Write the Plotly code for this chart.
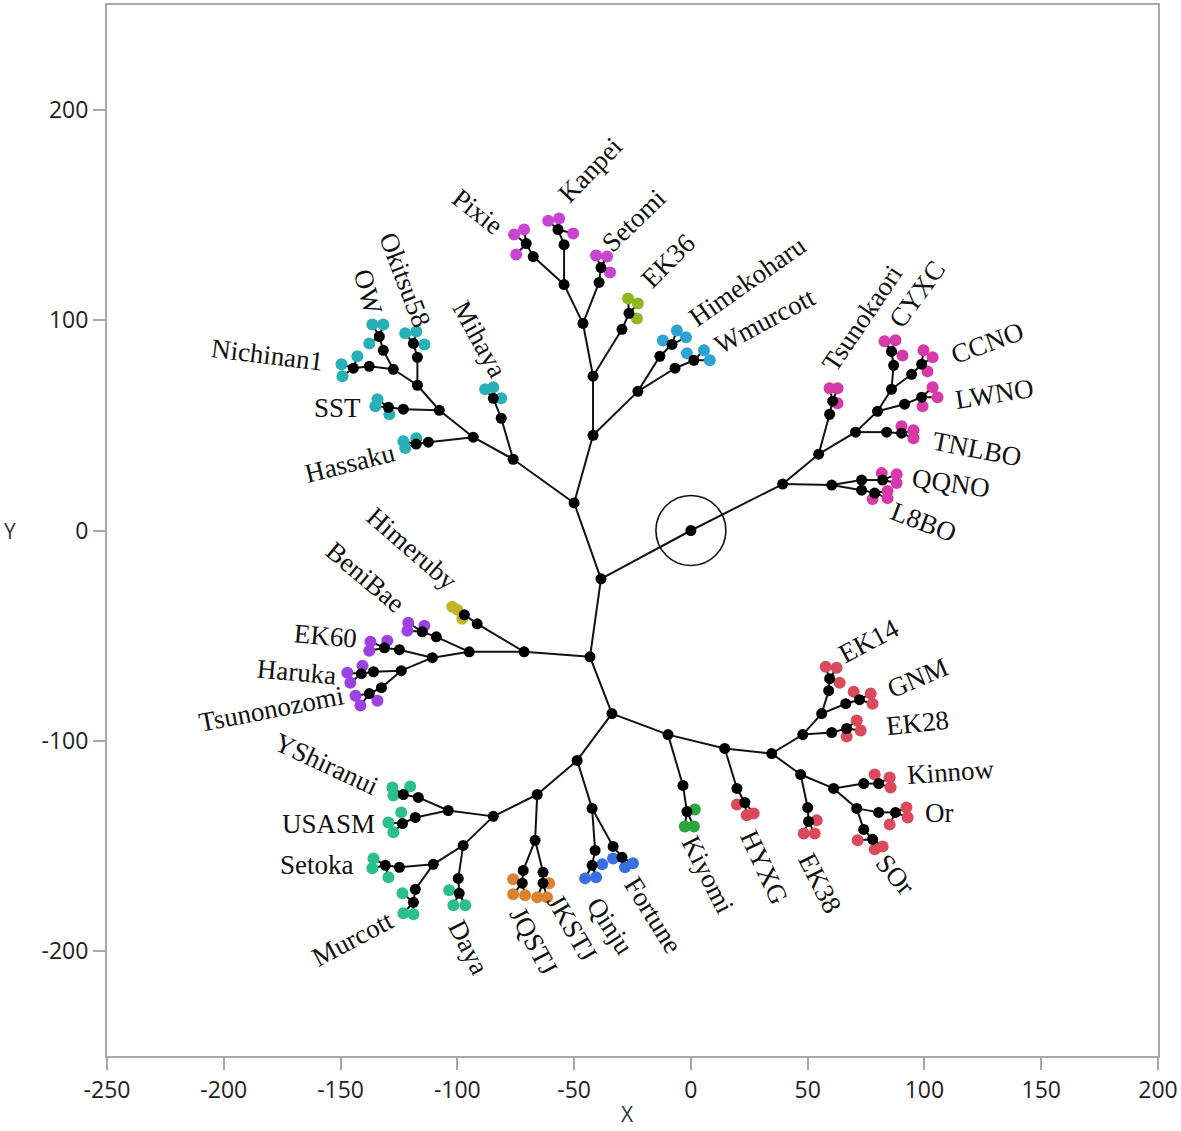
import plotly.graph_objects as go

# ---------------- data: tree nodes (id, parent, x, y) ----------------
node_id = ["root", "A", "R", "R1", "Tsu1", "Tsu2", "R2", "TN1", "TN2", "R3", "LW1", "LW2",
           "R4", "CY1", "CY2", "CC1", "CC2", "Q0", "QQ1", "QQ2", "L81", "L82",
           "B", "C1", "C2", "EK1", "EK2", "C3", "SE1", "SE2", "C4", "PX1", "PX2", "KP1", "KP2",
           "HW", "HK1", "HK2", "WM1", "WM2",
           "L0", "MH1", "MH2", "L1", "HS1", "HS2", "L2", "SS1", "SS2", "L3", "OK1", "OK2",
           "L4", "OW1", "OW2", "NI1", "NI2",
           "D", "D1", "HR1", "HR2", "D2", "BB1", "BB2", "D3", "E61", "E62", "D4", "HA1", "HA2",
           "TZ1", "TZ2",
           "E", "F", "G", "QJ1", "QJ2", "FT1", "FT2", "H", "J0", "JQ1", "JQ2", "JK1", "JK2",
           "I", "I1", "YS1", "YS2", "US1", "US2", "I2", "DY1", "DY2", "I3", "ST1", "ST2", "MC1", "MC2",
           "K", "KY1", "KY2", "L", "HY1", "HY2", "M", "M1", "E281", "E282", "M2", "E141", "E142",
           "GN1", "GN2", "M3", "E381", "E382", "M4", "KN1", "KN2", "M5", "OR1", "OR2", "SO1", "SO2"]
node_parent = [None, "root", "root", "R", "R1", "Tsu1", "R1", "R2", "TN1", "R2", "R3", "LW1",
               "R3", "R4", "CY1", "R4", "CC1", "R", "Q0", "QQ1", "Q0", "L81",
               "A", "B", "C1", "C2", "EK1", "C2", "C3", "SE1", "C3", "C4", "PX1", "C4", "KP1",
               "C1", "HW", "HK1", "HW", "WM1",
               "B", "L0", "MH1", "L0", "L1", "HS1", "L1", "L2", "SS1", "L2", "L3", "OK1",
               "L3", "L4", "OW1", "L4", "NI1",
               "A", "D", "D1", "HR1", "D1", "D2", "BB1", "D2", "D3", "E61", "D3", "D4", "HA1",
               "D4", "TZ1",
               "D", "E", "F", "G", "QJ1", "G", "FT1", "F", "H", "J0", "JQ1", "J0", "JK1",
               "H", "I", "I1", "YS1", "I1", "US1", "I", "I2", "DY1", "I2", "I3", "ST1", "I3", "MC1",
               "E", "K", "KY1", "K", "L", "HY1", "L", "M", "M1", "E281", "M1", "M2", "E141",
               "M2", "GN1", "M", "M3", "E381", "M3", "M4", "KN1", "M4", "M5", "OR1", "M5", "SO1"]
node_x = [0, -38.5, 39.3, 54.7, 59.4, 60.7, 70.5, 83.8, 90.2, 79.9, 91.5, 98.8,
          85.9, 86.8, 85.9, 94.5, 98.8, 60.3, 73.1, 82.1, 73.1, 78.7,
          -50.0, -41.9, -41.9, -29.5, -26.5, -46.2, -39.3, -38.5, -54.3, -67.5, -70.5, -54.3, -56.9,
          -22.7, -13.3, -8.1, -6.8, 1.3,
          -76.1, -81.2, -84.6, -93.2, -112.4, -117.6, -107.7, -123.1, -129.5, -117.1, -117.1, -118.8,
          -127.4, -131.7, -133.4, -137.7, -144.5,
          -43.2, -71.4, -91.5, -97.0, -94.9, -109.0, -115.0, -110.7, -124.8, -131.2, -124.0, -135.9, -141.1,
          -132.5, -137.7,
          -33.8, -48.7, -42.3, -41.0, -42.3, -33.3, -29.5, -65.8, -66.7, -71.8, -72.2, -63.3, -63.3,
          -84.6, -103.9, -116.7, -123.1, -118.0, -123.5, -97.5, -99.6, -99.2, -110.3, -124.8, -130.8, -118.0, -118.8,
          -9.8, -3.4, -1.7, 14.5, 19.7, 23.1, 34.6, 47.9, 60.3, 66.7, 56.0, 59.0, 59.4,
          66.3, 72.2, 47.0, 50.0, 50.4, 61.1, 74.0, 80.4, 71.0, 80.4, 87.6, 74.0, 77.8]
node_y = [0, -23.0, 22.1, 36.3, 55.3, 61.5, 46.8, 46.8, 46.3, 56.7, 60.1, 63.4,
          67.2, 78.6, 85.2, 74.3, 79.1, 21.6, 24.0, 24.0, 19.2, 17.8,
          13.1, 45.3, 73.4, 95.7, 103.3, 98.5, 118.0, 125.1, 117.0, 130.3, 136.5, 136.0, 143.2,
          66.2, 82.9, 88.5, 77.2, 81.0,
          33.9, 53.4, 62.9, 44.4, 42.0, 41.1, 57.2, 57.7, 58.6, 69.1, 82.4, 89.0,
          76.7, 85.7, 92.3, 78.1, 77.2,
          -60.1, -57.7, -44.4, -40.1, -57.7, -50.6, -48.2, -60.5, -56.7, -55.8, -66.7, -67.2, -68.1,
          -74.8, -77.6,
          -87.1, -109.4, -132.2, -152.2, -159.3, -150.3, -155.5, -125.6, -147.4, -161.7, -167.8, -162.6, -167.8,
          -136.0, -133.2, -127.0, -125.6, -136.5, -139.4, -149.8, -165.5, -172.6, -158.8, -160.2, -159.3, -170.7, -176.9,
          -97.1, -121.3, -133.7, -103.7, -122.7, -129.4, -106.1, -97.1, -96.1, -94.2, -87.1, -76.2, -70.5,
          -82.4, -80.5, -116.1, -131.8, -138.4, -122.7, -120.4, -120.4, -132.2, -134.1, -134.1, -142.2, -146.9]

# ---------------- data: leaf groups (cultivar samples) ----------------
leaf_label = ["Tsunokaori", "TNLBO", "LWNO", "CYXC", "CCNO", "QQNO", "L8BO",
              "EK36", "Setomi", "Pixie", "Kanpei", "Himekoharu", "Wmurcott",
              "Mihaya", "Hassaku", "SST", "Okitsu58", "OW", "Nichinan1",
              "Himeruby", "BeniBae", "EK60", "Haruka", "Tsunonozomi",
              "Qinju", "Fortune", "JQSTJ", "JKSTJ",
              "YShiranui", "USASM", "Daya", "Setoka", "Murcott",
              "Kiyomi", "HYXG", "EK28", "EK14", "GNM", "EK38", "Kinnow", "Or", "SOr"]
leaf_attach = ["Tsu2", "TN2", "LW2", "CY2", "CC2", "QQ2", "L82",
               "EK2", "SE2", "PX2", "KP2", "HK2", "WM2",
               "MH2", "HS2", "SS2", "OK2", "OW2", "NI2",
               "HR2", "BB2", "E62", "HA2", "TZ2",
               "QJ2", "FT2", "JQ2", "JK2",
               "YS2", "US2", "DY2", "ST2", "MC2",
               "KY2", "HY2", "E282", "E142", "GN2", "E382", "KN2", "OR2", "SO2"]
leaf_group = ["g1", "g1", "g1", "g1", "g1", "g1", "g1",
              "g2", "g3", "g3", "g3", "g4", "g4",
              "g5", "g5", "g5", "g5", "g5", "g5",
              "g6", "g7", "g7", "g7", "g7",
              "g8", "g8", "g9", "g9",
              "g10", "g10", "g10", "g10", "g10",
              "g11", "g12", "g12", "g12", "g12", "g12", "g12", "g12", "g12"]
leaf_x = [[59.4, 62.8, 62.8], [90.2, 95.3, 95.3], [103.5, 105.6, 99.2], [82.9, 87.6, 90.6],
          [99.6, 103.5, 101.3], [81.7, 88.1, 88.1], [77.8, 84.2, 84.2],
          [-26.9, -22.7, -23.1], [-40.6, -35.9, -34.6], [-75.7, -71.4, -74.8], [-61.1, -56.4, -50.4],
          [-12.0, -6.0, -2.1], [-1.7, 5.6, 8.1],
          [-88.1, -84.6, -81.2], [-123.1, -122.3, -117.6], [-134.2, -135.1, -129.1],
          [-122.3, -117.6, -114.1], [-136.4, -131.7, -137.7], [-149.6, -149.2, -142.8],
          [-102.2, -100.0, -97.9], [-121.0, -121.4, -114.1], [-137.2, -137.7, -130.0],
          [-147.1, -145.8, -140.6], [-143.6, -141.5, -134.2],
          [-45.3, -40.6, -38.0], [-33.3, -28.2, -24.8], [-76.1, -76.1, -71.0], [-65.8, -61.6, -60.7],
          [-127.8, -127.4, -120.2], [-129.5, -127.4, -124.0], [-103.5, -101.7, -96.6],
          [-135.9, -136.4, -129.5], [-123.5, -123.1, -118.8],
          [1.7, -2.6, 1.3], [19.7, 23.9, 26.9], [71.0, 72.7, 66.7], [57.7, 62.4, 63.7],
          [69.7, 77.0, 77.8], [53.9, 48.3, 53.0], [78.7, 85.1, 85.5], [92.3, 92.8, 85.1],
          [71.4, 78.7, 82.1]]
leaf_y = [[67.7, 67.7, 60.5], [49.6, 47.7, 43.9], [68.1, 63.4, 59.1], [90.0, 90.5, 83.3],
          [85.7, 82.4, 75.7], [27.3, 26.8, 22.6], [15.0, 18.8, 15.4],
          [110.4, 108.0, 100.9], [130.8, 130.3, 122.7], [140.8, 143.2, 131.3], [147.4, 148.4, 141.3],
          [90.4, 95.2, 91.9], [84.3, 85.7, 81.0],
          [67.2, 68.1, 62.9], [42.5, 39.2, 43.9], [62.4, 59.1, 55.3],
          [93.8, 94.7, 88.5], [98.0, 98.0, 89.0], [79.1, 73.4, 82.9],
          [-36.3, -37.7, -42.0], [-43.9, -47.7, -45.3], [-52.9, -57.2, -52.5],
          [-67.7, -72.4, -64.3], [-78.6, -83.3, -81.0],
          [-165.5, -165.0, -158.8], [-156.0, -160.2, -158.3], [-165.9, -173.0, -173.5], [-174.5, -174.5, -167.8],
          [-122.3, -126.1, -121.8], [-138.9, -143.6, -134.1], [-171.2, -178.3, -178.3],
          [-156.0, -160.7, -165.0], [-172.6, -182.1, -182.6],
          [-132.7, -140.8, -140.8], [-130.3, -135.5, -134.6], [-90.4, -95.2, -98.0], [-64.8, -65.3, -72.4],
          [-76.7, -77.6, -82.4], [-137.9, -144.1, -144.1], [-116.1, -117.5, -122.3], [-131.8, -136.5, -139.9],
          [-147.4, -151.7, -150.3]]

x_ticks = [-250, -200, -150, -100, -50, 0, 50, 100, 150, 200]
x_tick_text = ["-250", "-200", "-150", "-100", "-50", "0", "50", "100", "150", "200"]
y_ticks = [-200, -100, 0, 100, 200]
y_tick_text = ["-200", "-100", "0", "100", "200"]

# ---------------- styles / label placement ----------------
group_color = {"g1": "#d53aa8", "g2": "#8db822", "g3": "#c845d2", "g4": "#2ea3d2",
               "g5": "#27b1b6", "g6": "#c2b52a", "g7": "#9d42e0", "g8": "#3a6fe0",
               "g9": "#d9822f", "g10": "#2bbf8a", "g11": "#2aa63a", "g12": "#d94a5a"}
label_pos = {
    "Pixie": (-91.1, 151.7, 38), "Kanpei": (-43.2, 171.6, -46), "Setomi": (-24.4, 147.9, -44),
    "EK36": (-9.8, 128.0, -45), "Himekoharu": (24.4, 118.5, -35), "Wmurcott": (31.6, 99.5, -28),
    "Tsunokaori": (73.5, 100.9, -56), "CYXC": (97.0, 112.3, -54), "CCNO": (127.0, 89.0, -20),
    "LWNO": (130.0, 64.8, -9), "TNLBO": (122.3, 38.7, 11), "QQNO": (111.2, 22.6, 8),
    "L8BO": (99.6, 4.0, 21), "EK14": (76.1, -52.5, -28), "GNM": (97.0, -70.0, -23),
    "EK28": (97.0, -91.4, -6), "Kinnow": (111.2, -115.1, -4), "Or": (106.4, -134.6, 0),
    "SOr": (87.6, -164.0, 50), "EK38": (55.1, -167.8, 63), "HYXG": (31.2, -160.2, 65),
    "Kiyomi": (7.3, -164.0, 63), "Fortune": (-16.2, -183.0, 58), "Qinju": (-34.6, -188.3, 57),
    "JKSTJ": (-50.8, -189.0, 60), "JQSTJ": (-67.5, -195.5, 62), "Daya": (-95.3, -198.2, 63),
    "Murcott": (-144.9, -194.4, -28), "Setoka": (-159.9, -159.3, 0), "USASM": (-155.2, -139.8, 0),
    "YShiranui": (-156.0, -110.9, 25), "Tsunonozomi": (-179.6, -84.8, -11), "Haruka": (-168.9, -67.2, 5),
    "EK60": (-156.5, -50.1, 5), "BeniBae": (-139.4, -22.1, 40), "Himeruby": (-119.3, -8.8, 41),
    "Hassaku": (-145.8, 32.0, -14), "SST": (-151.3, 58.2, 0), "Nichinan1": (-181.3, 83.3, 7),
    "OW": (-138.1, 113.7, 75), "Okitsu58": (-122.3, 119.4, 69), "Mihaya": (-90.6, 90.9, 61),
}

pos = {n: (x, y) for n, x, y in zip(node_id, node_x, node_y)}

fig = go.Figure()

# edges between internal nodes
ex, ey = [], []
for n, p in zip(node_id, node_parent):
    if p is None:
        continue
    ex += [pos[p][0], pos[n][0], None]
    ey += [pos[p][1], pos[n][1], None]
# edges from terminal nodes to sample dots
for att, xs, ys in zip(leaf_attach, leaf_x, leaf_y):
    for lx, ly in zip(xs, ys):
        ex += [pos[att][0], lx, None]
        ey += [pos[att][1], ly, None]
fig.add_trace(go.Scatter(x=ex, y=ey, mode="lines", line=dict(color="#111111", width=2),
                         hoverinfo="skip", showlegend=False))

# sample dots
for g, col in group_color.items():
    xs, ys = [], []
    for grp, lx, ly in zip(leaf_group, leaf_x, leaf_y):
        if grp == g:
            xs += lx
            ys += ly
    fig.add_trace(go.Scatter(x=xs, y=ys, mode="markers",
                             marker=dict(size=12, color=col, line=dict(width=0)),
                             showlegend=False, hoverinfo="skip"))

# internal nodes
fig.add_trace(go.Scatter(x=node_x, y=node_y, mode="markers",
                         marker=dict(size=11, color="#000000", line=dict(width=0)),
                         showlegend=False, hoverinfo="skip"))

# root circle
fig.add_trace(go.Scatter(x=[node_x[0]], y=[node_y[0]], mode="markers",
                         marker=dict(size=70, symbol="circle-open", color="#111111",
                                     line=dict(width=1.6, color="#111111")),
                         showlegend=False, hoverinfo="skip"))

annotations = []
for lab in leaf_label:
    lx, ly, ang = label_pos[lab]
    annotations.append(dict(x=lx, y=ly, xref="x", yref="y", text=lab, showarrow=False,
                            textangle=ang, xanchor="center", yanchor="middle",
                            font=dict(family="Liberation Serif", size=27, color="#111111")))
annotations.append(dict(x=0.495, y=-0.0555, xref="paper", yref="paper", text="X", showarrow=False,
                        xanchor="center", yanchor="middle", borderpad=0,
                        font=dict(family="Open Sans", size=21, color="#333333")))
annotations.append(dict(x=-0.092, y=0.5, xref="paper", yref="paper", text="Y", showarrow=False,
                        xanchor="center", yanchor="middle", borderpad=0,
                        font=dict(family="Open Sans", size=21, color="#333333")))

axis_common = dict(showgrid=False, zeroline=False, showline=True, mirror=True,
                   linecolor="#a8a8a8", linewidth=2, ticks="outside", ticklen=12,
                   tickwidth=2, tickcolor="#a8a8a8",
                   tickfont=dict(family="Open Sans", size=23, color="#222222"))

fig.update_layout(
    width=1181, height=1131, autosize=False,
    margin=dict(l=107, r=22, t=3, b=75),
    plot_bgcolor="white", paper_bgcolor="white",
    xaxis=dict(range=[-250, 200], tickvals=x_ticks, ticktext=x_tick_text, **axis_common),
    yaxis=dict(range=[-250, 250], tickvals=y_ticks, ticktext=y_tick_text, **axis_common),
    annotations=annotations,
    showlegend=False,
)

fig.write_html("out.html", config={"displayModeBar": False},
               post_script="document.body.style.margin='0';document.body.style.padding='0';")
